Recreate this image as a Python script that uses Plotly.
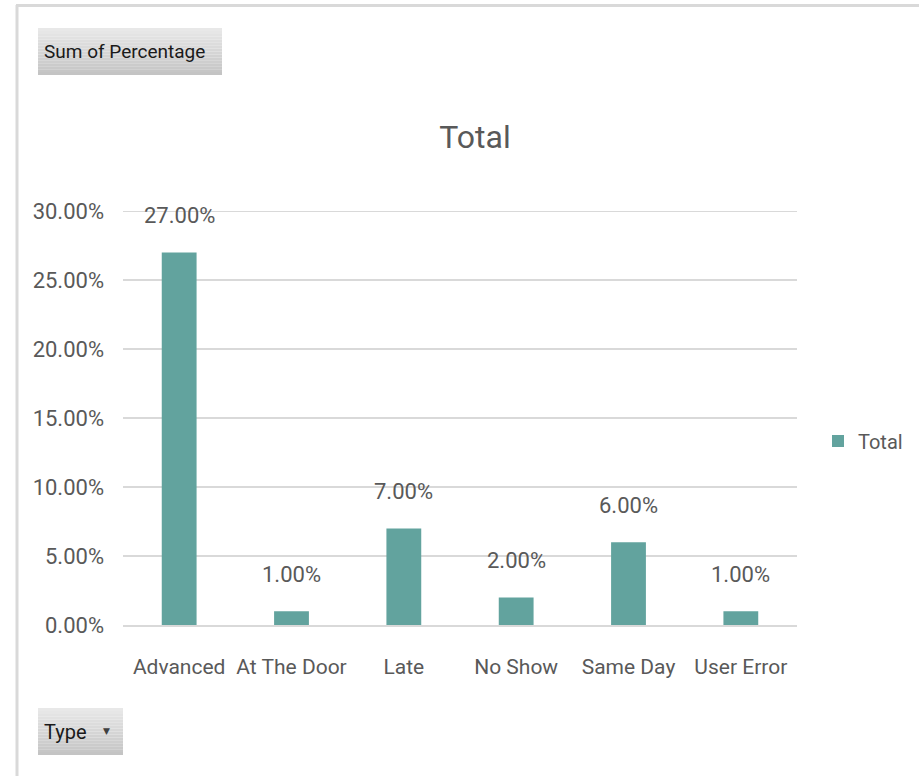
import plotly.graph_objects as go

# Pivot chart data: share of bookings by type
categories = ["Advanced", "At The Door", "Late", "No Show", "Same Day", "User Error"]
percentages = [0.27, 0.01, 0.07, 0.02, 0.06, 0.01]
y_ticks = [0.0, 0.05, 0.10, 0.15, 0.20, 0.25, 0.30]

W, H = 919, 776
L, R, T, B = 123, 797, 211, 625  # plot area in pixels

FONT = "Roboto, sans-serif"
TEXT = "#595959"
BAR = "#62a39e"
GRID = "#d9d9d9"


def px_x(p):
    return (p - L) / (R - L)


def px_y(p):
    return (B - p) / (B - T)


fig = go.Figure()
fig.add_trace(go.Bar(
    x=categories, y=percentages, name="Total",
    marker=dict(color=BAR, line=dict(width=0)),
    width=0.31, showlegend=True,
))

# value labels above each bar
for c, v in zip(categories, percentages):
    fig.add_annotation(x=c, y=v, text=f"{v*100:.2f}%", showarrow=False,
                       yanchor="bottom", yshift=22,
                       font=dict(family=FONT, size=22, color=TEXT))

shapes = []

# gridline for the top tick, which sits on the edge of the plot area
shapes.append(dict(type="line", xref="paper", yref="y",
                   x0=0, x1=1, y0=y_ticks[-1], y1=y_ticks[-1],
                   line=dict(color=GRID, width=2), layer="below"))


def button(x0, y0, x1, y1):
    # vertical grey gradient built from thin bands
    n = 16
    top, bot = (232, 232, 232), (196, 196, 196)
    for i in range(n):
        t = i / (n - 1)
        c = tuple(round(top[k] + (bot[k] - top[k]) * t) for k in range(3))
        ya = y0 + (y1 - y0) * i / n
        yb = y0 + (y1 - y0) * (i + 1) / n
        shapes.append(dict(type="rect", xref="paper", yref="paper",
                           x0=px_x(x0), x1=px_x(x1), y0=px_y(ya), y1=px_y(yb),
                           fillcolor=f"rgb{c}", line=dict(width=0), layer="below"))


button(38, 28, 222, 75)
button(38, 708, 123, 755)

# outer frame (top and left edges)
shapes.append(dict(type="line", xref="paper", yref="paper",
                   x0=px_x(16), x1=px_x(919), y0=px_y(5.5), y1=px_y(5.5),
                   line=dict(color="#d9d9d9", width=3)))
shapes.append(dict(type="line", xref="paper", yref="paper",
                   x0=px_x(17), x1=px_x(17), y0=px_y(5), y1=px_y(776),
                   line=dict(color="#d9d9d9", width=3)))

fig.add_annotation(xref="paper", yref="paper", x=px_x(42), y=px_y(51.5),
                   xanchor="left", yanchor="middle", showarrow=False,
                   text="Sum of Percentage",
                   font=dict(family=FONT, size=19, color="#1a1a1a"))
fig.add_annotation(xref="paper", yref="paper", x=px_x(42), y=px_y(732),
                   xanchor="left", yanchor="middle", showarrow=False,
                   text="Type",
                   font=dict(family=FONT, size=20, color="#1a1a1a"))
fig.add_annotation(xref="paper", yref="paper", x=px_x(106), y=px_y(731),
                   xanchor="center", yanchor="middle", showarrow=False,
                   text="▼",
                   font=dict(family="DejaVu Sans", size=9, color="#404040"))

fig.update_layout(
    width=W, height=H,
    margin=dict(l=L, r=W - R, t=T, b=H - B, pad=0, autoexpand=False),
    paper_bgcolor="white", plot_bgcolor="white",
    title=dict(text="Total", x=475 / W, xanchor="center",
               y=1 - 137 / H, yanchor="middle",
               font=dict(family=FONT, size=32, color=TEXT)),
    font=dict(family=FONT, color=TEXT),
    showlegend=True,
    legend=dict(x=px_x(818), y=px_y(441), xanchor="left", yanchor="middle",
                font=dict(family=FONT, size=20, color=TEXT),
                bgcolor="rgba(0,0,0,0)", itemwidth=30),
    shapes=shapes,
)

fig.update_xaxes(
    showgrid=False, showline=True, linecolor=GRID, linewidth=2,
    ticks="", tickfont=dict(family=FONT, size=21, color=TEXT),
    ticklabelstandoff=22,
)
fig.update_yaxes(
    range=[0, 0.30], tickvals=y_ticks, tickformat=".2%",
    showgrid=True, gridcolor=GRID, gridwidth=2,
    zeroline=False, showline=False, ticks="",
    tickfont=dict(family=FONT, size=22, color=TEXT),
    ticklabelstandoff=18,
)

fig.write_html("out.html")
